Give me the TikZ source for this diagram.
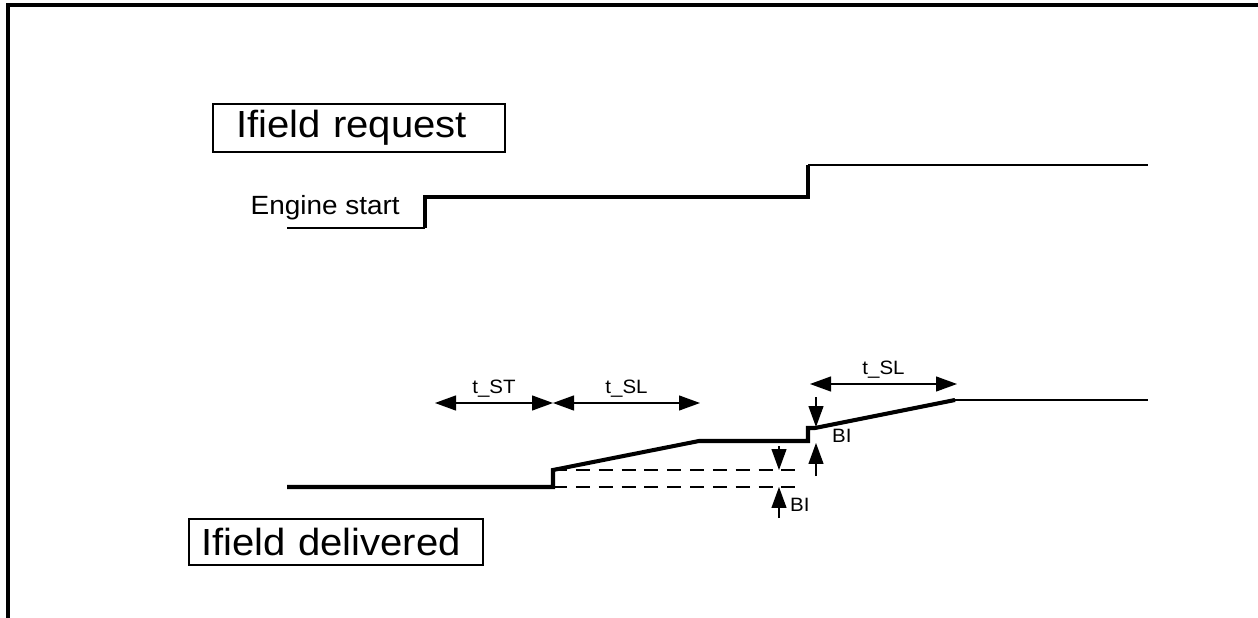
\documentclass[tikz,border=0pt]{standalone}
\usepackage{fontspec}
\setmainfont{Liberation Sans}[FakeStretch=1.06]
\usetikzlibrary{arrows.meta, positioning}

\begin{document}
\begin{tikzpicture}[
    x=0.02cm, y=-0.02cm,
    titlebox/.style={rectangle, draw, line width=1.2pt, minimum height=0.96cm, align=left, font=\fontsize{21.5}{23}\selectfont},
    siglabel/.style={font=\fontsize{15}{17}\selectfont},
    dimlabel/.style={font=\fontsize{11}{13}\selectfont, inner sep=1pt},
    thicksig/.style={line width=2.3pt},
    thinsig/.style={line width=1.2pt},
    dimarrow/.style={{Triangle[length=0.42cm,width=0.3cm]}-{Triangle[length=0.42cm,width=0.3cm]}, line width=0.7pt},
    inarrow/.style={-{Triangle[length=0.42cm,width=0.3cm]}, line width=0.7pt},
    guide/.style={dashed, dash pattern=on 8pt off 5pt, line width=0.6pt},
  ]
    \useasboundingbox (0,0) rectangle (1258,618);
    \draw[line width=2.4pt] (8,618) -- (8,5) -- (1258,5);

    \node[titlebox, inner xsep=0.46cm, text width=4.92cm] (req) at (359,128) {Ifield request};
    \node[titlebox, inner xsep=0.24cm, text width=5.4cm, minimum height=0.92cm] (del) at (336,542) {Ifield delivered};
    \node[siglabel, anchor=east] (eng) at (406,208) {Engine start};

    % requested field
    \coordinate (r0) at (287,228);
    \coordinate (r1) at (425,228);
    \coordinate (r2) at (425,197);
    \coordinate (r3) at (808,197);
    \coordinate (r4) at (808,165);
    \coordinate (r5) at (1148,165);
    \draw[thinsig] (r0) -- (r1);
    \draw[thicksig] (r1) -- (r2) -- (r3) -- (r4);
    \draw[thinsig] (r4) -- (r5);

    % delivered field
    \coordinate (d0) at (287,487);
    \coordinate (d1) at (553,487);
    \coordinate (d2) at (553,470);
    \coordinate (d3) at (699,441);
    \coordinate (d4) at (808,441);
    \coordinate (d5) at (808,428);
    \coordinate (d6) at (815,428);
    \coordinate (d7) at (955,400);
    \coordinate (d8) at (1148,400);
    \draw[thicksig] (d0) -- (d1) -- (d2) -- (d3) -- (d4) -- (d5) -- (d6) -- (d7);
    \draw[thinsig] (d7) -- (d8);

    \coordinate (g1) at (797,470);
    \coordinate (g2) at (797,487);
    \draw[guide] (d2) -- (g1);
    \draw[guide] (d1) -- (g2);

    % time spans
    \coordinate (st0) at (435,403);
    \coordinate (st1) at (553,403);
    \coordinate (sl1) at (700,403);
    \coordinate (sl2) at (810,384);
    \coordinate (sl3) at (957,384);
    \draw[dimarrow] (st0) -- (st1) node[dimlabel, midway, above=2pt] (tst) {t\_ST};
    \draw[dimarrow] (st1) -- (sl1) node[dimlabel, midway, above=2pt] (tsl) {t\_SL};
    \draw[dimarrow] (sl2) -- (sl3) node[dimlabel, midway, above=2pt] (tsl2) {t\_SL};

    % step sizes
    \coordinate (ba0) at (779,446);
    \coordinate (ba1) at (779,470);
    \coordinate (ba2) at (779,518);
    \coordinate (ba3) at (779,487);
    \draw[inarrow] (ba0) -- (ba1);
    \draw[inarrow] (ba2) -- (ba3);
    \node[dimlabel, anchor=west] (bi1) at (788,505) {BI};

    \coordinate (bb0) at (816,397);
    \coordinate (bb1) at (816,427);
    \coordinate (bb2) at (816,476);
    \coordinate (bb3) at (816,443);
    \draw[inarrow] (bb0) -- (bb1);
    \draw[inarrow] (bb2) -- (bb3);
    \node[dimlabel, anchor=west] (bi2) at (830,436) {BI};
  \end{tikzpicture}
\end{document}
